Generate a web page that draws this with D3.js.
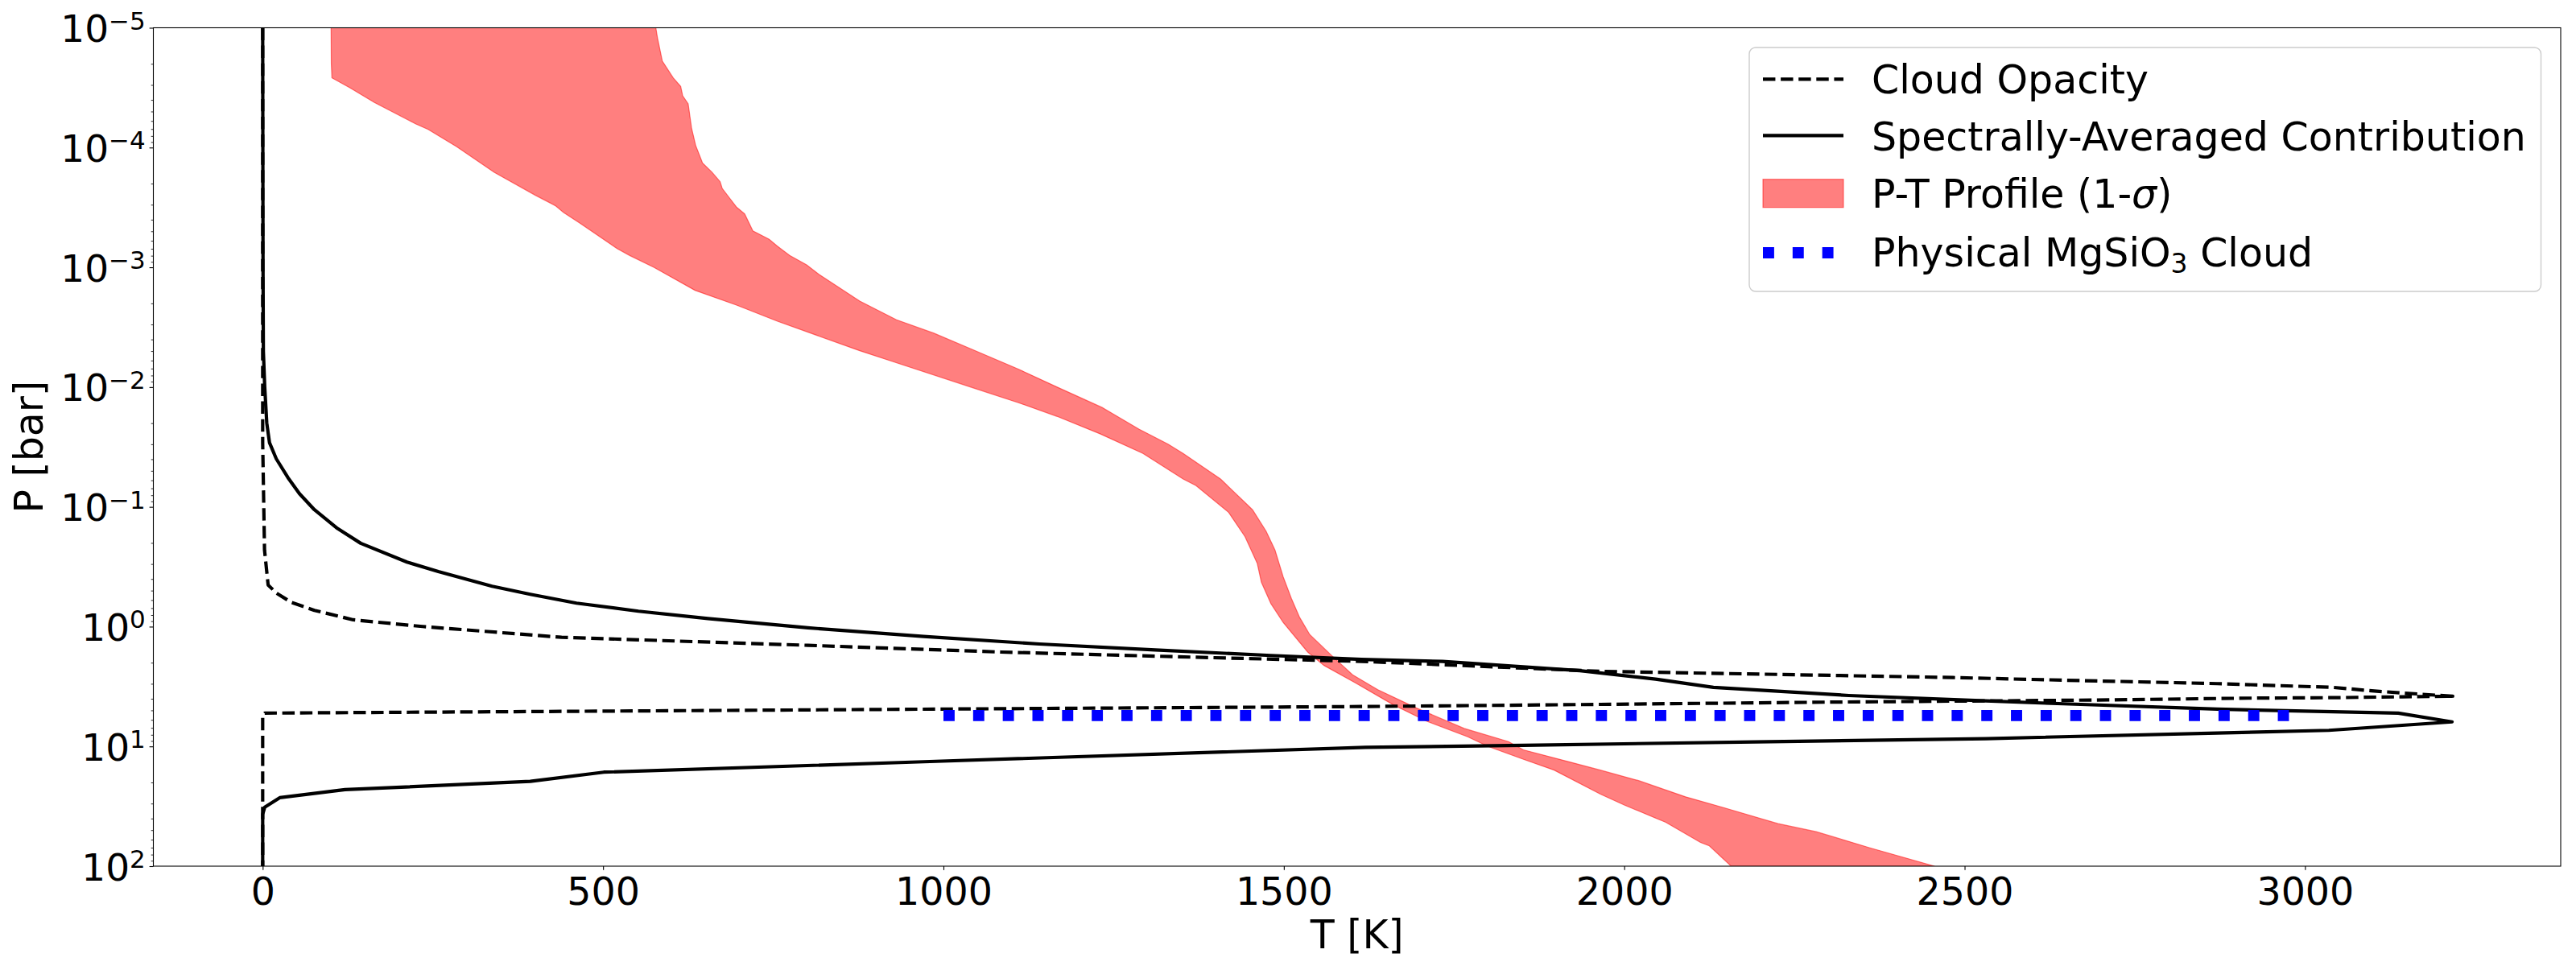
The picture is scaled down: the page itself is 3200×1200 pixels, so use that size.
<!DOCTYPE html>
<html><head><meta charset="utf-8">
<script src="https://cdn.jsdelivr.net/npm/d3@7"></script>
<style>body{margin:0;background:#fff} svg{display:block}</style>
</head><body>
<script>
// ---------------- data ----------------
const tempTicks = [0, 500, 1000, 1500, 2000, 2500, 3000];
const pressureExps = [-5, -4, -3, -2, -1, 0, 1, 2];

// P-T profile 1-sigma band: cold edge and hot edge (T in K, log10 P in bar)
const bandColdT = [100.5,100.8,101.7,128,164,225,243,285,340,400,430,442,466,521,539,575,635,696,756,877,925,1040,1110,1167,1230,1293,1352,1371,1419,1443,1461,1467,1481,1499,1535,1559,1605,1660,1710,1770,1800,1852,1897,1965,2000,2061,2112,2125,2157];
const bandColdLogP = [-5.0,-4.70,-4.582,-4.499,-4.376,-4.197,-4.152,-4.007,-3.794,-3.603,-3.514,-3.458,-3.368,-3.155,-3.099,-2.999,-2.808,-2.685,-2.550,-2.304,-2.214,-2.0,-1.87,-1.755,-1.61,-1.446,-1.233,-1.177,-0.953,-0.751,-0.527,-0.371,-0.192,-0.035,0.212,0.324,0.469,0.65,0.79,0.92,1.0,1.108,1.198,1.399,1.489,1.634,1.802,1.83,2.0];
const bandHotT = [577.5,580,587,603,614,617,625,630,636,646,660,672,675,684,696,708,720,744,756,774,799,817,877,931,986,1040,1110,1167,1233,1287,1330,1352,1407,1454,1474,1487,1499,1511,1523,1538,1571,1601,1638,1695,1765,1830,1852,1920,1965,2022,2090,2146,2226,2282,2361,2456];
const bandHotLogP = [-5.0,-4.914,-4.723,-4.582,-4.511,-4.432,-4.365,-4.163,-4.018,-3.872,-3.794,-3.715,-3.659,-3.592,-3.503,-3.446,-3.305,-3.234,-3.177,-3.099,-3.021,-2.942,-2.718,-2.562,-2.450,-2.32,-2.15,-2.0,-1.83,-1.65,-1.524,-1.446,-1.233,-0.976,-0.796,-0.640,-0.416,-0.237,-0.079,0.066,0.245,0.402,0.526,0.68,0.85,0.96,1.029,1.130,1.198,1.287,1.421,1.511,1.645,1.712,1.847,2.0];

// Spectrally-averaged contribution (solid)
const contribT = [0,0.5,1,3,6,10,20,37,54,76,110,144,212,258,337,393,461,552,654,801,971,1141,1311,1481,1614,1733,1935,2046,2131,2330,2531,2645,2871,3137,3216,3035,2871,2531,2192,1852,1620,971,501,393,121,25,3,0,0];
const contribLogP = [-5,-3,-2.3,-2.0,-1.7,-1.536,-1.401,-1.245,-1.110,-0.976,-0.819,-0.696,-0.539,-0.460,-0.337,-0.270,-0.196,-0.129,-0.068,0.010,0.082,0.145,0.194,0.241,0.274,0.290,0.368,0.438,0.507,0.575,0.620,0.644,0.689,0.722,0.795,0.866,0.888,0.935,0.962,0.991,1.008,1.128,1.215,1.292,1.361,1.428,1.507,1.567,2.0];

// Cloud opacity (dashed)
const opacityT = [0,0,2.7,8,20,42,76,133,235,439,801,1084,1380,1614,1758,1965,2305,2483,2645,2871,3041,3098,3143,3217,3143,3041,2917,2690,2305,1965,1758,1614,1034,518,178,3,0,0];
const opacityLogP = [-5,-1.536,-0.640,-0.348,-0.281,-0.203,-0.136,-0.057,-0.001,0.089,0.156,0.212,0.257,0.290,0.324,0.373,0.407,0.425,0.447,0.476,0.507,0.536,0.554,0.581,0.586,0.593,0.597,0.613,0.630,0.649,0.660,0.667,0.687,0.705,0.716,0.722,0.74,2.0];

// Physical MgSiO3 cloud (blue dotted)
const cloudT = [1000, 2980];
const cloudLogP = [0.742, 0.742];

const legendLabels = ["Cloud Opacity", "Spectrally-Averaged Contribution", "P-T Profile (1-σ)", "Physical MgSiO3 Cloud"];

// ---------------- drawing ----------------
const W = 3200, H = 1200;
const L = 190.5, R = 3181, T = 34.5, B = 1076;
const FONT = '"DejaVu Sans", "Liberation Sans", sans-serif';

const svg = d3.select('body').append('svg')
  .attr('width', W).attr('height', H)
  .style('font-family', FONT);

const x = d3.scaleLinear().domain([-160.6, 3375.6]).range([L, R]);
const y = d3.scaleLog().domain([1e-5, 1e2]).range([T, B]);

const pts = (ts, ps) => ts.map((t, i) => [t, Math.pow(10, ps[i])]);
const line = d3.line().x(d => x(d[0])).y(d => y(d[1]));

svg.append('defs').append('clipPath').attr('id', 'clip')
  .append('rect').attr('x', L).attr('y', T).attr('width', R - L).attr('height', B - T);

const plot = svg.append('g').attr('clip-path', 'url(#clip)');

// band
const cold = pts(bandColdT, bandColdLogP);
const hot = pts(bandHotT, bandHotLogP);
const poly = cold.concat(hot.slice().reverse());
plot.append('path').attr('d', line(poly) + 'Z')
  .attr('fill', 'rgba(255,0,0,0.5)')
  .attr('stroke', 'rgba(255,0,0,0.5)').attr('stroke-width', 1.2);

const LW = 4.17;
plot.append('path').attr('d', line(pts(opacityT, opacityLogP)))
  .attr('fill', 'none').attr('stroke', '#000').attr('stroke-width', LW)
  .attr('stroke-dasharray', `${3.7*LW},${1.6*LW}`).attr('stroke-linejoin', 'round');

plot.append('path').attr('d', line(pts(contribT, contribLogP)))
  .attr('fill', 'none').attr('stroke', '#000').attr('stroke-width', LW)
  .attr('stroke-linejoin', 'round');

const BLW = 13.9;
plot.append('path').attr('d', line(pts(cloudT, cloudLogP)))
  .attr('fill', 'none').attr('stroke', '#0000ff').attr('stroke-width', BLW)
  .attr('stroke-dasharray', `${BLW},${1.65*BLW}`).attr('stroke-linecap', 'butt');

// axes
const TICK = 4.86, PAD = 4.86;
const TFS = 47.5;
const xAxis = svg.append('g').attr('transform', `translate(0,${B})`)
  .call(d3.axisBottom(x).tickValues(tempTicks).tickSize(TICK).tickSizeOuter(0).tickFormat(d3.format('d')));
xAxis.select('.domain').remove();
xAxis.selectAll('line').attr('stroke-width', 1.1);
xAxis.selectAll('text').attr('y', 47.5).attr('dy', null)
  .style('font-size', TFS + 'px').style('font-family', FONT).attr('fill', '#000');

const yAxis = svg.append('g').attr('transform', `translate(${L},0)`)
  .call(d3.axisLeft(y).tickValues(pressureExps.map(e => Math.pow(10, e))).tickSize(TICK).tickSizeOuter(0).tickFormat(() => ''));
yAxis.select('.domain').remove();
yAxis.selectAll('line').attr('stroke-width', 1.1);
yAxis.selectAll('.tick').each(function(d) {
  const e = Math.round(Math.log10(d));
  const t = d3.select(this).select('text')
    .attr('x', -(TICK + PAD)).attr('dy', null).attr('y', 17)
    .attr('text-anchor', 'end').attr('fill', '#000')
    .style('font-family', FONT).style('font-size', '47px').text(null);
  t.append('tspan').text('10');
  t.append('tspan').attr('dy', -15.5).style('font-size', '31px')
    .text((e < 0 ? '\u2212' : '') + Math.abs(e));
});

const minors = [];
for (let k = -5; k < 2; k++) for (let m = 2; m <= 9; m++) minors.push(m * Math.pow(10, k));
const yMinor = svg.append('g').attr('transform', `translate(${L},0)`)
  .call(d3.axisLeft(y).tickValues(minors).tickSize(2.78).tickSizeOuter(0).tickFormat(() => ''));
yMinor.select('.domain').remove();
yMinor.selectAll('line').attr('stroke-width', 0.83);

// frame
svg.append('rect').attr('x', L).attr('y', T).attr('width', R - L).attr('height', B - T)
  .attr('fill', 'none').attr('stroke', '#000').attr('stroke-width', 1.1);

// axis labels
svg.append('text').attr('x', (L + R) / 2).attr('y', 1178).attr('text-anchor', 'middle')
  .style('font-size', '49px').text('T [K]');
svg.append('text').attr('transform', `translate(53,${(T + B) / 2}) rotate(-90)`)
  .attr('text-anchor', 'middle').style('font-size', '49px').text('P [bar]');

// legend
const LFS = 49;
const lg = svg.append('g');
lg.append('rect').attr('x', 2173).attr('y', 59).attr('width', 3156.5 - 2173).attr('height', 362 - 59)
  .attr('rx', 8).attr('fill', 'rgba(255,255,255,0.8)').attr('stroke', '#cccccc').attr('stroke-width', 1.4);
const hx0 = 2190, hx1 = 2290, tx = 2325;
const rowBase = [115.5, 186.5, 258, 330.5];
const rowMid = [98.3, 168.3, 240, 314];
lg.append('line').attr('x1', hx0).attr('x2', hx1).attr('y1', rowMid[0]).attr('y2', rowMid[0])
  .attr('stroke', '#000').attr('stroke-width', LW).attr('stroke-dasharray', `${3.7*LW},${1.6*LW}`);
lg.append('line').attr('x1', hx0).attr('x2', hx1).attr('y1', rowMid[1]).attr('y2', rowMid[1])
  .attr('stroke', '#000').attr('stroke-width', LW);
lg.append('rect').attr('x', hx0).attr('y', 222.7).attr('width', hx1 - hx0).attr('height', 35)
  .attr('fill', 'rgba(255,0,0,0.5)').attr('stroke', 'rgba(255,0,0,0.5)').attr('stroke-width', 1.2);
lg.append('line').attr('x1', hx0).attr('x2', hx1).attr('y1', rowMid[3]).attr('y2', rowMid[3])
  .attr('stroke', '#0000ff').attr('stroke-width', BLW).attr('stroke-dasharray', `${BLW},${1.65*BLW}`);

lg.append('text').attr('x', tx).attr('y', rowBase[0]).style('font-size', LFS + 'px').text(legendLabels[0]);
lg.append('text').attr('x', tx).attr('y', rowBase[1]).style('font-size', LFS + 'px').text(legendLabels[1]);
const t2 = lg.append('text').attr('x', tx).attr('y', rowBase[2]).style('font-size', LFS + 'px');
t2.append('tspan').text('P-T Profile (1-');
t2.append('tspan').style('font-style', 'italic').text('σ');
t2.append('tspan').text(')');
const t3 = lg.append('text').attr('x', tx).attr('y', rowBase[3]).style('font-size', LFS + 'px');
t3.append('tspan').text('Physical MgSiO');
t3.append('tspan').attr('dy', 8).style('font-size', '33px').text('3');
t3.append('tspan').attr('dy', -8).text(' Cloud');
</script>
</body></html>
